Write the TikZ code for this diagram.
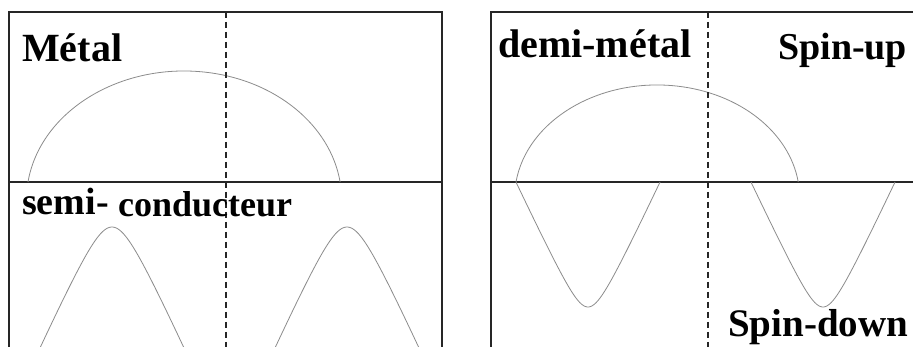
\documentclass[tikz,border=0pt]{standalone}
\usepackage{fontspec}
\setmainfont{Liberation Serif}
\begin{document}
\begin{tikzpicture}[x=1pt,y=-1pt,
  frame/.style={draw=black!85,line width=1.3pt},
  sep/.style={draw=black!85,line width=1.2pt,dash pattern=on 6pt off 4pt},
  band/.style={draw=black!45,line width=0.8pt},
  lbl/.style={inner sep=0pt,anchor=base west,font=\bfseries\fontsize{#1}{#1}\selectfont},
  lbl/.default=39]
\useasboundingbox[fill=white] (0,0) rectangle (913,347);
% frames
\draw[frame] (9,347) -- (9,12) -- (442,12) -- (442,347);
\draw[frame] (9,182) -- (442,182);
\draw[frame] (491,347) -- (491,12) -- (913,12);
\draw[frame] (491,182) -- (913,182);
% bands
\draw[band] (28,182) arc[start angle=188.02,end angle=351.98,x radius=157.6,y radius=129];
\draw[band] plot[domain=-72:72,samples=80,smooth] ({112+\x},{227+44.2*(sqrt(1+(\x/20)^2)-1)});
\draw[band] plot[domain=-72:72,samples=80,smooth] ({347+\x},{227+44.2*(sqrt(1+(\x/20)^2)-1)});
\draw[band] (516,182) arc[start angle=188,end angle=352,x radius=142.5,y radius=112.7];
\draw[band] plot[domain=-72:72,samples=80,smooth] ({588+\x},{307-32*(sqrt(1+(\x/15)^2)-1)});
\draw[band] plot[domain=-72:72,samples=80,smooth] ({823+\x},{307-32*(sqrt(1+(\x/15)^2)-1)});
% Fermi level
\draw[sep] (226,12) -- (226,347);
\draw[sep] (708,12) -- (708,347);
% labels
\node[lbl=40] (metal) at (22,62) {Métal};
\node[lbl=38] (semi) at (22,215) {semi-};
\node[lbl=36] (cond) at (118,217) {conducteur};
\node[lbl=40] (demi) at (498,58) {demi-métal};
\node[lbl=38] (up) at (778,60) {Spin-up};
\node[lbl=39] (down) at (728,337) {Spin-down};
\end{tikzpicture}
\end{document}
